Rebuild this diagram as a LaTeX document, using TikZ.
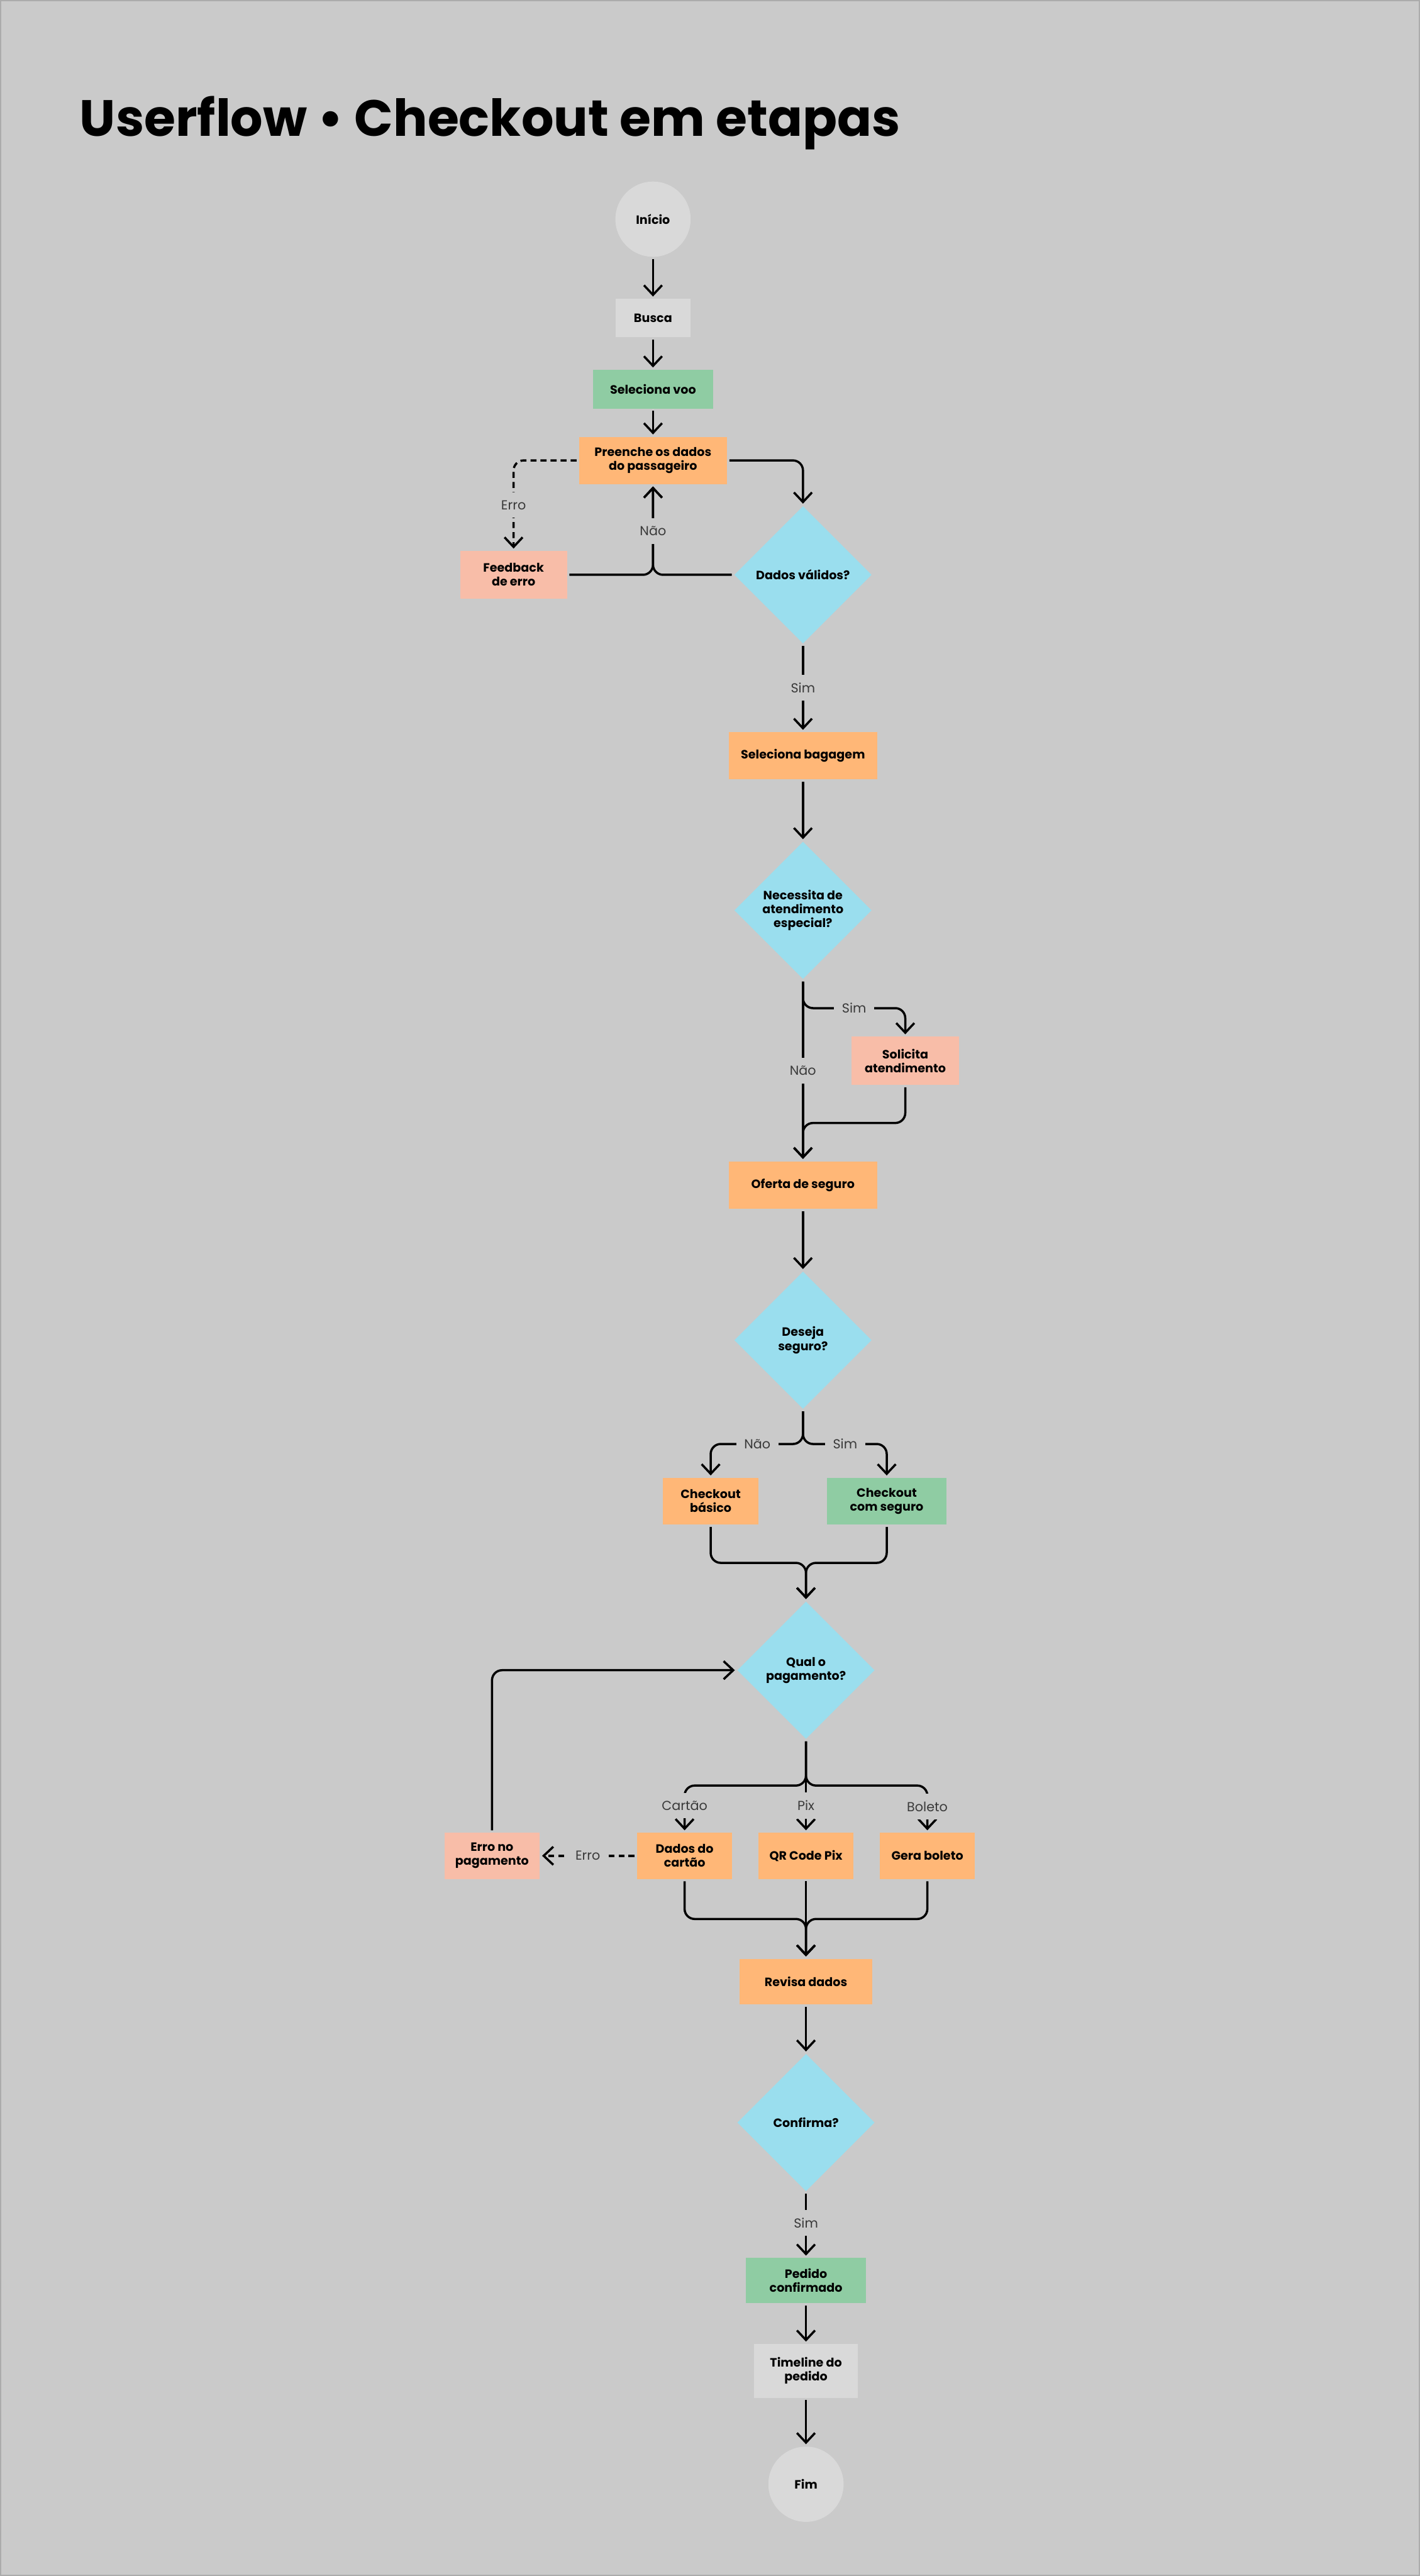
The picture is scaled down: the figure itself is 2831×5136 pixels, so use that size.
\documentclass[tikz,border=0pt]{standalone}
\usepackage{fontspec}
\setmainfont{Poppins}
\usetikzlibrary{arrows.meta,shapes.geometric}
\definecolor{bg}{HTML}{CACACA}
\definecolor{edge}{HTML}{ABABAB}
\definecolor{lightnode}{HTML}{D9D9D9}
\definecolor{greennode}{HTML}{8FCCA3}
\definecolor{orangenode}{HTML}{FFB777}
\definecolor{salmonnode}{HTML}{F8BDA8}
\definecolor{cyannode}{HTML}{9ADEEE}
\definecolor{lblc}{HTML}{3A3A3A}
\newcommand\nodefnt{\bfseries\fontsize{6}{6.9}\selectfont}
\newcommand\lblfnt{\fontsize{6.5}{7.5}\selectfont}
\newcommand\titlefnt{\bfseries\fontsize{25.4}{30}\selectfont}
\tikzset{
  boxbase/.style={rectangle, inner sep=0pt, align=center, font=\nodefnt, text=black},
  graybox/.style={boxbase, fill=lightnode},
  greenbox/.style={boxbase, fill=greennode},
  orangebox/.style={boxbase, fill=orangenode},
  salmonbox/.style={boxbase, fill=salmonnode},
  terminal/.style={circle, fill=lightnode, minimum size=37.5pt, inner sep=0pt, font=\nodefnt, align=center},
  decision/.style={diamond, aspect=1, fill=cyannode, minimum width=68.5pt, minimum height=68.5pt, inner sep=0pt, align=center, font=\nodefnt},
  flow/.style={draw=black, line width=1.1pt, rounded corners=5pt, -{Straight Barb[length=4.8pt,width=9pt]}, shorten >=1pt, shorten <=1pt},
  dashflow/.style={flow, dash pattern=on 3pt off 2pt},
  lbl/.style={fill=bg, font=\lblfnt, text=lblc, inner sep=4pt},
}
\begin{document}
\begin{tikzpicture}[x=0.25pt,y=-0.25pt]
\useasboundingbox (0,0) rectangle (2831,5136);
\fill[bg] (0,0) rectangle (2831,5136);
\draw[edge, line width=0.5pt] (1,1) rectangle (2830,5135);

\node[anchor=base west, font=\titlefnt] (title) at (145,272) {Userflow • Checkout em etapas};

% nodes
\node[terminal] (ini) at (1302,437) {Início};
\node[graybox, minimum width=37.25pt, minimum height=19pt] (busca) at (1302,634) {Busca};
\node[greenbox, minimum width=59.75pt, minimum height=19.25pt] (selvoo) at (1302,776) {Seleciona voo};
\node[orangebox, minimum width=73.75pt, minimum height=23.5pt] (pre) at (1302,918) {Preenche os dados\\do passageiro};
\node[salmonbox, minimum width=53.25pt, minimum height=23.75pt] (fb) at (1024,1146) {Feedback\\de erro};
\node[decision] (dv) at (1601,1146) {Dados válidos?};
\node[orangebox, minimum width=74pt, minimum height=23.5pt] (bag) at (1601,1507) {Seleciona bagagem};
\node[decision] (nec) at (1601,1815) {Necessita de\\atendimento\\especial?};
\node[salmonbox, minimum width=53.5pt, minimum height=24pt] (sol) at (1805,2115) {Solicita\\atendimento};
\node[orangebox, minimum width=74pt, minimum height=23.75pt] (of) at (1601,2363) {Oferta de seguro};
\node[decision] (des) at (1601,2672) {Deseja\\seguro?};
\node[orangebox, minimum width=47.5pt, minimum height=23.25pt] (bas) at (1417,2993) {Checkout\\básico};
\node[greenbox, minimum width=59.75pt, minimum height=23.25pt] (cs) at (1768,2993) {Checkout\\com seguro};
\node[decision] (qp) at (1607,3330) {Qual o\\pagamento?};
\node[orangebox, minimum width=47.5pt, minimum height=23pt] (dc) at (1365,3700) {Dados do\\cartão};
\node[orangebox, minimum width=47.5pt, minimum height=23pt] (qr) at (1607,3700) {QR Code Pix};
\node[orangebox, minimum width=47.5pt, minimum height=23pt] (gb) at (1849,3700) {Gera boleto};
\node[salmonbox, minimum width=47.5pt, minimum height=23pt] (ep) at (981,3700) {Erro no\\pagamento};
\node[orangebox, minimum width=66.25pt, minimum height=22.75pt] (rev) at (1607,3951) {Revisa dados};
\node[decision] (conf) at (1607,4232) {Confirma?};
\node[greenbox, minimum width=59.75pt, minimum height=22.5pt] (ped) at (1607,4547) {Pedido\\confirmado};
\node[graybox, minimum width=51.75pt, minimum height=26.75pt] (tl) at (1607,4727) {Timeline do\\pedido};
\node[terminal] (fim) at (1607,4953) {Fim};

% connectors
\draw[flow] (ini) -- (busca);
\draw[flow] (busca) -- (selvoo);
\draw[flow] (selvoo) -- (pre);
\draw[flow] (pre.east) -- (1601,918) -- (dv.north);
\draw[dashflow] (pre.west) -- (1024,918) -- (fb.north);
\node[lbl] (lerro1) at (1024,1007) {Erro};
\draw[flow] (fb.east) -- (1302,1146) -- (pre.south);
\draw[flow] (dv.west) -- (1302,1146) -- (pre.south);
\node[lbl] (lnao1) at (1302,1059) {Não};
\draw[flow] (dv.south) -- (bag.north);
\node[lbl] (lsim1) at (1601,1371) {Sim};

\draw[flow] (bag) -- (nec);
\draw[flow] (nec.south) -- (of.north);
\node[lbl] (lnao2) at (1601,2135) {Não};
\draw[flow] (nec.south) -- (1601,2010) -- (1805,2010) -- (sol.north);
\node[lbl] (lsim2) at (1703,2010) {Sim};
\draw[flow] (sol.south) -- (1805,2239) -- (1601,2239) -- (of.north);

\draw[flow] (of) -- (des);
\draw[flow] (des.south) -- (1601,2879) -- (1417,2879) -- (bas.north);
\node[lbl] (lnao3) at (1510,2879) {Não};
\draw[flow] (des.south) -- (1601,2879) -- (1768,2879) -- (cs.north);
\node[lbl] (lsim3) at (1685,2879) {Sim};
\draw[flow] (bas.south) -- (1417,3116) -- (1607,3116) -- (qp.north);
\draw[flow] (cs.south) -- (1768,3116) -- (1607,3116) -- (qp.north);

\draw[flow] (qp.south) -- (1607,3560) -- (1365,3560) -- (dc.north);
\draw[flow] (qp.south) -- (qr.north);
\draw[flow] (qp.south) -- (1607,3560) -- (1849,3560) -- (gb.north);
\node[lbl] (lcar) at (1365,3600) {Cartão};
\node[lbl] (lpix) at (1607,3600) {Pix};
\node[lbl] (lbol) at (1849,3602) {Boleto};
\draw[dashflow] (dc.west) -- (ep.east);
\node[lbl] (lerro2) at (1172,3700) {Erro};
\draw[flow] (ep.north) -- (981,3330) -- (qp.west);

\draw[flow] (dc.south) -- (1365,3826) -- (1607,3826) -- (rev.north);
\draw[flow] (qr.south) -- (rev.north);
\draw[flow] (gb.south) -- (1849,3826) -- (1607,3826) -- (rev.north);

\draw[flow] (rev) -- (conf);
\draw[flow] (conf.south) -- (ped.north);
\node[lbl] (lsim4) at (1607,4432) {Sim};
\draw[flow] (ped) -- (tl);
\draw[flow] (tl) -- (fim);
\end{tikzpicture}
\end{document}
